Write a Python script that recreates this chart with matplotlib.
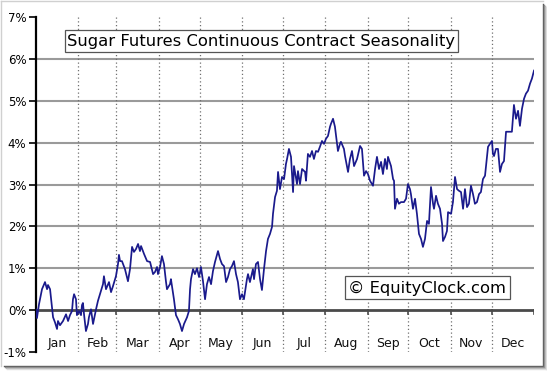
import matplotlib
matplotlib.use("Agg")
import matplotlib.pyplot as plt
from matplotlib.patches import Rectangle

# ---- data (day of year, seasonal % change) ----
days = [0, 0.7, 2.2, 4.4, 6.6, 8.1, 8.8, 10.3, 12.5, 13.9, 15.4, 16.1, 17.6, 19.8, 22.0, 23.5,
        24.9, 26.4, 27.1, 27.9, 29.3, 30.0, 31.5, 33.0, 33.7, 34.4, 35.2, 36.6, 38.1, 38.8,
        40.3, 41.8, 44.0, 45.4, 46.9, 49.1, 49.8, 51.3, 53.5, 55.0, 56.4, 57.9, 58.6, 60.1,
        60.8, 61.6, 63.0, 65.2, 67.4, 68.9, 70.4, 71.8, 73.3, 74.8, 76.2, 77.0, 79.2, 81.4,
        83.6, 85.8, 87.2, 88.7, 89.4, 90.9, 92.3, 93.8, 95.3, 96.0, 98.2, 98.9, 101.1, 102.6,
        104.1, 105.5, 107.0, 108.5, 110.7, 112.1, 112.9, 113.6, 115.1, 116.5, 118.0, 119.5,
        120.9, 122.4, 123.9, 125.3, 126.8, 128.3, 129.7, 131.2, 133.4, 134.9, 136.3, 137.8,
        139.3, 140.7, 142.2, 143.6, 145.1, 146.6, 148.0, 149.5, 151.0, 152.4, 154.6, 155.4,
        156.8, 159.0, 159.8, 161.2, 162.7, 164.2, 165.6, 167.1, 168.6, 170.0, 171.5, 173.0,
        173.7, 175.2, 176.6, 177.4, 178.8, 180.3, 181.8, 183.2, 184.0, 185.4, 186.9, 188.4,
        189.1, 191.3, 192.0, 193.5, 195.0, 197.2, 197.9, 199.3, 200.8, 202.3, 203.7, 205.2,
        206.7, 208.1, 209.6, 211.1, 212.5, 214.0, 215.5, 216.2, 217.7, 219.1, 220.6, 221.3,
        222.8, 223.5, 225.7, 226.5, 228.7, 230.1, 231.6, 233.1, 235.3, 237.5, 238.9, 240.4,
        241.9, 243.3, 244.8, 247.0, 248.5, 249.9, 251.4, 252.9, 254.3, 255.8, 257.2, 258.0,
        260.2, 261.7, 262.4, 263.1, 264.6, 266.0, 267.5, 269.7, 271.2, 272.6, 274.1, 274.8,
        276.3, 277.8, 279.2, 280.7, 282.2, 283.6, 285.1, 286.6, 288.0, 289.5, 291.0, 291.7,
        293.2, 294.6, 296.1, 297.6, 298.3, 299.8, 301.2, 302.0, 304.2, 305.6, 307.1, 308.6,
        310.0, 311.5, 313.0, 314.4, 315.9, 317.3, 318.8, 320.3, 321.7, 323.2, 324.7, 326.1,
        327.6, 329.1, 331.3, 332.7, 334.2, 334.9, 335.7, 337.1, 338.6, 340.1, 341.5, 343.0,
        344.5, 347.4, 348.8, 350.3, 351.8, 353.3, 354.7, 356.2, 357.7, 359.1, 360.6, 362.1,
        363.5, 365.0]
values = [0.02, -0.19, 0.14, 0.50, 0.67, 0.50, 0.60, 0.50, -0.17, -0.29, -0.45, -0.26, -0.36,
          -0.26, -0.10, -0.26, -0.12, -0.02, 0.26, 0.38, 0.26, -0.12, -0.02, -0.12, 0.12, 0.17,
          -0.10, -0.50, -0.33, -0.17, 0.02, -0.33, 0.02, 0.22, 0.38, 0.62, 0.81, 0.50, 0.67,
          0.43, 0.57, 0.74, 0.81, 1.10, 1.32, 1.17, 1.17, 0.98, 0.69, 0.98, 1.51, 1.39, 1.46,
          1.58, 1.41, 1.53, 1.34, 1.17, 1.15, 0.86, 0.91, 1.03, 0.86, 1.03, 1.29, 1.10, 0.67,
          0.50, 0.62, 0.74, 0.26, -0.12, -0.22, -0.33, -0.50, -0.33, -0.17, -0.02, 0.50, 0.74,
          0.98, 0.86, 1.00, 0.79, 1.03, 0.69, 0.26, 0.62, 0.79, 0.62, 0.93, 1.15, 1.41, 1.22,
          1.10, 1.05, 0.67, 0.79, 0.98, 1.05, 1.17, 0.86, 0.67, 0.26, 0.38, 0.26, 0.74, 0.86,
          0.67, 0.98, 0.74, 1.10, 1.15, 0.74, 0.48, 0.98, 1.41, 1.70, 1.82, 1.99, 2.30, 2.70,
          2.85, 3.30, 2.89, 3.18, 3.13, 3.49, 3.61, 3.85, 3.66, 2.82, 3.44, 3.01, 3.32, 3.01,
          3.37, 3.30, 3.09, 3.73, 3.66, 3.80, 3.61, 3.80, 3.78, 3.90, 4.04, 3.97, 4.09, 4.16,
          4.38, 4.45, 4.57, 4.38, 3.97, 3.80, 3.97, 4.02, 3.85, 3.68, 3.30, 3.61, 3.80, 3.44,
          3.61, 3.92, 3.85, 3.21, 3.32, 3.25, 3.09, 2.97, 3.37, 3.66, 3.37, 3.54, 3.25, 3.61,
          3.37, 3.66, 3.44, 3.13, 3.09, 2.42, 2.66, 2.54, 2.58, 2.58, 2.66, 3.01, 2.89, 2.77,
          2.42, 2.66, 2.30, 1.82, 1.70, 1.51, 1.70, 2.13, 2.06, 2.94, 2.54, 2.42, 2.73, 2.54,
          2.42, 2.06, 1.65, 1.75, 1.89, 2.34, 2.30, 2.58, 3.18, 2.89, 2.85, 2.82, 2.42, 2.89,
          2.46, 2.54, 2.97, 2.77, 2.54, 2.58, 2.77, 2.82, 3.13, 3.21, 3.90, 3.97, 4.04, 3.73,
          3.68, 3.85, 3.85, 3.30, 3.49, 3.56, 4.26, 4.26, 4.26, 4.90, 4.57, 4.76, 4.40, 4.81,
          5.05, 5.17, 5.24, 5.41, 5.53, 5.72]

months = ["Jan", "Feb", "Mar", "Apr", "May", "Jun", "Jul", "Aug", "Sep", "Oct", "Nov", "Dec"]
month_starts = [0, 31, 59, 90, 120, 151, 181, 212, 243, 273, 304, 334, 365]
y_ticks = [-1, 0, 1, 2, 3, 4, 5, 6, 7]
y_labels = ["-1%", "0%", "1%", "2%", "3%", "4%", "5%", "6%", "7%"]
title = "Sugar Futures Continuous Contract Seasonality"
credit = "\u00a9 EquityClock.com"

W, H = 547, 374
fig = plt.figure(figsize=(W / 100, H / 100), dpi=100)
fig.patch.set_facecolor("white")

ax = fig.add_axes([36 / W, 1 - 352 / H, 498 / W, 335 / H])
ax.set_xlim(0, 365)
ax.set_ylim(-1, 7)
ax.set_facecolor("white")

# grid
for v in y_ticks[2:-1]:
    ax.axhline(v, color="#9a9a9a", lw=1.5, zorder=1)
ax.axhline(0, color="#4a4a4a", lw=2.0, zorder=2)
for b in month_starts[1:-1]:
    ax.axvline(b, color="#707070", lw=0.9, ls=(0, (1, 2)), zorder=1)
for b in month_starts[1:]:
    ax.plot([b, b], [0, -0.09], color="#4a4a4a", lw=1.2, zorder=2)

# line
ax.plot(days, values, color="#1a1a8c", lw=1.25, zorder=3)

# month labels
for i, m in enumerate(months):
    mid = (month_starts[i] + month_starts[i + 1]) / 2
    ax.text(mid, -0.8, m, ha="center", va="center", fontsize=9, color="#111111")

# axes styling
for s in ["top", "right", "bottom"]:
    ax.spines[s].set_visible(False)
ax.spines["left"].set_color("black")
ax.spines["left"].set_linewidth(1.6)
ax.set_xticks([])
ax.set_yticks(y_ticks)
ax.set_yticklabels(y_labels)
ax.tick_params(axis="y", length=5, width=1.2, labelsize=8.5, pad=2, colors="black")

# title box
fig.patches.append(Rectangle((65 / W, 1 - 52 / H), (458 - 65) / W, 22 / H,
                             transform=fig.transFigure, fc="white", ec="#555555", lw=0.9, zorder=5))
fig.text(261.5 / W, 1 - 41.5 / H, title, ha="center", va="center", fontsize=11.8, zorder=6)

# credit box
fig.patches.append(Rectangle((345 / W, 1 - 299 / H), (510 - 345) / W, 23 / H,
                             transform=fig.transFigure, fc="white", ec="#555555", lw=0.9, zorder=5))
fig.text(427.5 / W, 1 - 288 / H, credit, ha="center", va="center", fontsize=11.8, zorder=6)

# figure frame with shadow
shade = ["#5a5a5a", "#8a8a8a", "#b5b5b5", "#dddddd"]
for k, c in enumerate(shade):
    fig.lines.append(plt.Line2D([(543 + k) / W, (543 + k) / W], [1 - (4 + k) / H, 1 - (366 + k) / H],
                                transform=fig.transFigure, color=c, lw=1))
    fig.lines.append(plt.Line2D([(4 + k) / W, (543 + k) / W], [1 - (366 + k) / H, 1 - (366 + k) / H],
                                transform=fig.transFigure, color=c, lw=1))
fig.lines.append(plt.Line2D([0.5 / W, 0.5 / W], [1 - 0.5 / H, 1 - 366 / H],
                            transform=fig.transFigure, color="#d0d0d0", lw=1))
fig.lines.append(plt.Line2D([0.5 / W, 543 / W], [1 - 0.5 / H, 1 - 0.5 / H],
                            transform=fig.transFigure, color="#d0d0d0", lw=1))

fig.savefig("out.png", dpi=100)
